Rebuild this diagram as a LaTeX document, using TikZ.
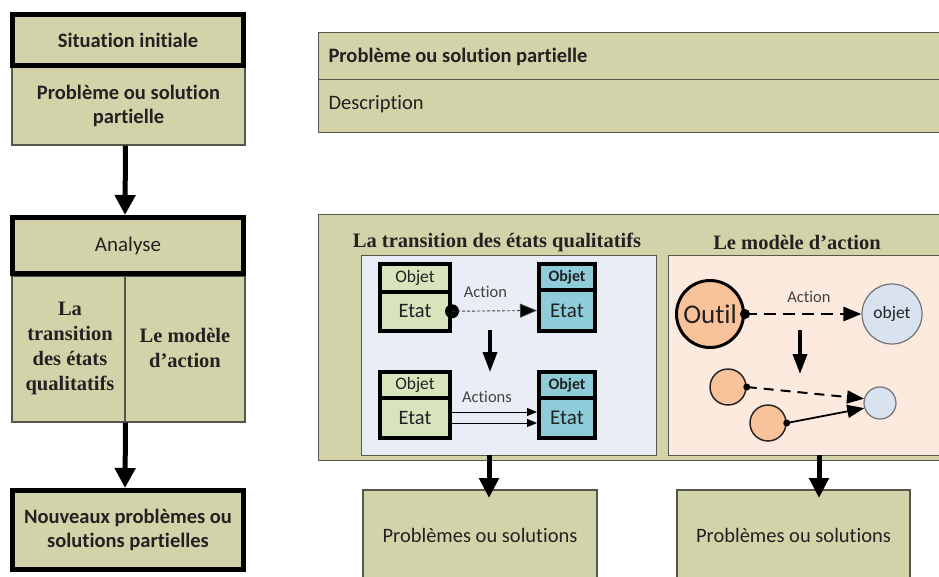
\documentclass[tikz,border=0pt]{standalone}
\usepackage{fontspec}
\setmainfont{Carlito}[Ligatures=NoCommon]
\newfontfamily\timesfont{Liberation Serif}
\usetikzlibrary{arrows.meta}
\definecolor{khaki}{HTML}{D3D3A9}
\definecolor{khakiline}{HTML}{55574A}
\definecolor{objgreen}{HTML}{D8E4BC}
\definecolor{objblue}{HTML}{8FCCDA}
\definecolor{panelblue}{HTML}{E9EDF5}
\definecolor{panelpink}{HTML}{FCEADF}
\definecolor{toolorange}{HTML}{F8C39B}
\definecolor{targetblue}{HTML}{D9E2EF}
\definecolor{ink}{HTML}{222222}
\newcommand{\fs}[2]{\fontsize{#1}{#2}\selectfont}

\begin{document}
\begin{tikzpicture}[x=1pt,y=-1pt,
  kbox/.style={draw=khakiline, line width=1.2pt, fill=khaki, inner sep=0pt, align=center, text=ink},
  kthick/.style={kbox, draw=black, line width=5pt},
  bigarrow/.style={line width=5pt, -{Triangle[width=20pt,length=20pt]}},
  midarrow/.style={line width=3.5pt, -{Triangle[width=14pt,length=20pt]}},
  objbox/.style={draw=black, line width=4pt, inner sep=0pt, text=ink},
  serifhead/.style={font=\timesfont\bfseries\fs{20.5}{25}, text=ink, align=center},
  dotnode/.style={circle, fill=black, inner sep=0pt, minimum size=#1},
  label/.style={font=\fs{16.5}{18}, text=ink!85}
]
\useasboundingbox (0,0) rectangle (939,576);
\fill[white] (0,0) rectangle (939,576);
\clip (0,0) rectangle (939,576);

% ---------- left column ----------
\node[kbox, minimum width=233pt, minimum height=78pt, font=\bfseries\fs{20.5}{24.5}] (prob) at (128.5,106) {Problème ou solution\\partielle};
\node[kthick, minimum width=231pt, minimum height=51pt, font=\bfseries\fs{20.5}{22}] (sit) at (128,40) {Situation initiale};

\node[kbox, minimum width=233pt, minimum height=146pt] (split) at (128.5,349) {};
\draw[khakiline, line width=1.2pt] (125,276) -- (125,422);
\node[serifhead] (splitA) at (70,348) {La\\transition\\des états\\qualitatifs};
\node[serifhead] (splitB) at (185,348) {Le modèle\\d’action};
\node[kthick, minimum width=231pt, minimum height=56pt, font=\fs{21}{22}] (ana) at (128,245.5) {Analyse};

\node[kthick, minimum width=231pt, minimum height=79pt, font=\bfseries\fs{20.5}{24.5}] (nouv) at (128,530) {Nouveaux problèmes ou\\solutions partielles};

\draw[bigarrow] ([xshift=-3pt]prob.south) -- ([xshift=-3pt]ana.north);
\draw[bigarrow] ([xshift=-3pt]split.south) -- ([xshift=-3pt]nouv.north);

% ---------- description card ----------
\node[kbox, anchor=north west, minimum width=627pt, minimum height=47pt] (hdr) at (318,32) {};
\node[kbox, anchor=north west, minimum width=627pt, minimum height=53pt] (descbox) at (318,79) {};
\node[anchor=west, font=\bfseries\fs{20.5}{22}, text=ink] (hdrtext) at (325,57) {Problème ou solution partielle};
\node[anchor=west, font=\fs{20.5}{22}, text=ink] (desctext) at (325,104) {Description};

% ---------- analysis panel ----------
\node[kbox, anchor=north west, minimum width=627pt, minimum height=246pt] (analysis) at (318,214) {};
\node[serifhead] (ttitle) at (497,242) {La transition des états qualitatifs};
\node[serifhead] (mtitle) at (797,242) {Le modèle d’action};
\node[draw=khakiline, line width=1pt, fill=panelblue, anchor=north west, minimum width=295pt, minimum height=200pt, inner sep=0pt] (tpanel) at (361,255) {};
\node[draw=khakiline, line width=1pt, fill=panelpink, anchor=north west, minimum width=277pt, minimum height=200pt, inner sep=0pt] (mpanel) at (668,255) {};

% qualitative state transition
\node[objbox, fill=objgreen, minimum width=70pt, minimum height=28pt, font=\fs{17.5}{18}] (o1h) at (415,277.5) {Objet};
\node[objbox, fill=objgreen, minimum width=70pt, minimum height=39.5pt, font=\fs{20.5}{22}] (o1e) at (415,311.25) {Etat};
\node[objbox, fill=objblue, minimum width=56pt, minimum height=26pt, font=\bfseries\fs{16}{18}] (o2h) at (567,277) {Objet};
\node[objbox, fill=objblue, minimum width=56pt, minimum height=41pt, font=\fs{21}{22}] (o2e) at (567,310.5) {Etat};
\node[objbox, fill=objgreen, minimum width=70pt, minimum height=26pt, font=\fs{17.5}{18}] (o3h) at (415,385) {Objet};
\node[objbox, fill=objgreen, minimum width=70pt, minimum height=40pt, font=\fs{20.5}{22}] (o3e) at (415,418) {Etat};
\node[objbox, fill=objblue, minimum width=56pt, minimum height=26pt, font=\bfseries\fs{16}{18}] (o4h) at (567,385) {Objet};
\node[objbox, fill=objblue, minimum width=56pt, minimum height=40pt, font=\fs{21}{22}] (o4e) at (567,418) {Etat};

\node[dotnode=14pt] (dot1) at (o1e.east) {};
\draw[black!75, line width=0.9pt, dash pattern=on 3pt off 2pt, -{Triangle[width=14pt,length=17pt,fill=black]}] (dot1.center) -- (o2e.west);
\node[label] (act1) at (485.5,292) {Action};

\coordinate (td1) at (490,330);
\coordinate (td2) at (490,372);
\draw[midarrow] (td1) -- (td2);

\draw[line width=1pt, -{Triangle[width=8pt,length=10pt]}] ([yshift=6pt]o3e.east) -- ([yshift=6pt]o4e.west);
\draw[line width=1pt, -{Triangle[width=8pt,length=10pt]}] ([yshift=-5pt]o3e.east) -- ([yshift=-5pt]o4e.west);
\node[label] (act2) at (487,397) {Actions};

% action model
\node[circle, draw=black, line width=3pt, fill=toolorange, minimum size=67pt, inner sep=0pt, font=\fs{27}{28}, text=ink] (outil) at (710,314) {Outil};
\node[circle, draw=black!55, line width=1.2pt, fill=targetblue, minimum size=60pt, inner sep=0pt, font=\fs{17.5}{18}, text=ink] (objet) at (892,314) {objet};
\node[dotnode=10pt] (dotO) at (outil.east) {};
\draw[line width=2.8pt, dash pattern=on 12pt off 7pt, -{Triangle[width=14pt,length=18pt]}] (dotO.center) -- (objet.west);
\node[label] (act3) at (809,297) {Action};

\coordinate (md1) at (800,330);
\coordinate (md2) at (800,374);
\draw[midarrow] (md1) -- (md2);

\node[circle, draw=black!85, line width=1.5pt, fill=toolorange, minimum size=36pt, inner sep=0pt] (c1) at (728,387) {};
\node[circle, draw=black!85, line width=1.5pt, fill=toolorange, minimum size=36pt, inner sep=0pt] (c2) at (768,423) {};
\node[circle, draw=black!55, line width=1.2pt, fill=targetblue, minimum size=32pt, inner sep=0pt] (c3) at (880,403) {};
\node[dotnode=7pt] (d1) at (c1.east) {};
\node[dotnode=7pt] (d2) at (c2.east) {};
\draw[line width=2pt, dash pattern=on 10pt off 7pt, -{Triangle[width=13pt,length=17pt]}] (d1.center) -- (c3.165);
\draw[line width=1.8pt, -{Triangle[width=13pt,length=17pt]}] (d2.center) -- (c3.198);

% ---------- resulting problems ----------
\node[kbox, minimum width=234pt, minimum height=90pt, font=\fs{20.5}{22}] (ps1) at (480,535) {Problèmes ou solutions};
\node[kbox, minimum width=233pt, minimum height=90pt, font=\fs{20.5}{22}] (ps2) at (793.5,535) {Problèmes ou solutions};
\coordinate (b1) at (489,455);
\coordinate (b1e) at (489,498);
\coordinate (b2) at (819,455);
\coordinate (b2e) at (819,498);
\draw[line width=5pt, -{Triangle[width=19pt,length=20pt]}] (b1) -- (b1e);
\draw[line width=5pt, -{Triangle[width=19pt,length=20pt]}] (b2) -- (b2e);
\end{tikzpicture}
\end{document}
